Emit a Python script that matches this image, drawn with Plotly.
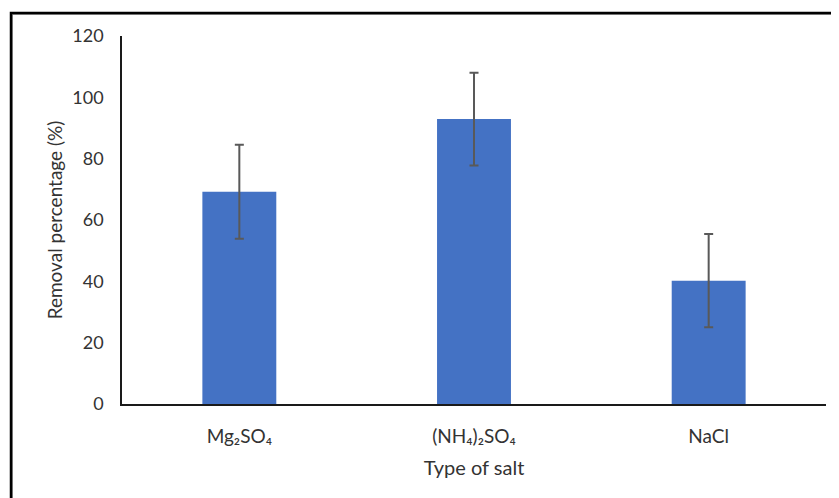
import plotly.graph_objects as go

categories = ["Mg₂SO₄", "(NH₄)₂SO₄", "NaCl"]
removal = [69.2, 92.9, 40.2]
errors = [15.3, 15.1, 15.2]
y_ticks = [0, 20, 40, 60, 80, 100, 120]

# page body has an 8px margin: work in figure-relative pixels
OFF = 8
W, H = 839 - OFF, 498 - OFF
ml, mr, mt, mb = 122 - OFF, 839 - 826, 36 - OFF, 498 - 404
pw, ph = W - ml - mr, H - mt - mb

def px_x(p):
    return (p - OFF - ml) / pw

def px_y(p):
    return (H - mb - (p - OFF)) / ph

font_family = "Lato, 'Open Sans', sans-serif"

fig = go.Figure(
    go.Bar(
        x=categories,
        y=removal,
        width=0.315,
        marker=dict(color="#4472C4", line=dict(width=0)),
        error_y=dict(type="data", array=errors, visible=True,
                     color="#595959", thickness=2, width=4.5),
    )
)

fig.update_layout(
    width=W, height=H,
    margin=dict(l=ml, r=mr, t=mt, b=mb, autoexpand=False),
    paper_bgcolor="white", plot_bgcolor="white",
    font=dict(family=font_family, size=18, color="#333333"),
    showlegend=False,
    xaxis=dict(
        title=dict(text="Type of salt", standoff=15, font=dict(size=20)),
        showline=True, linecolor="#1a1a1a", linewidth=1.5,
        showgrid=False, ticks="", ticklabelstandoff=14,
        tickfont=dict(size=19), automargin=False,
    ),
    yaxis=dict(
        title=dict(text="Removal percentage (%)", standoff=5, font=dict(size=19)),
        range=[0, 120], tickvals=y_ticks, showline=True,
        linecolor="#1a1a1a", linewidth=1.5, showgrid=False, zeroline=False,
        ticks="", ticklabelstandoff=13, automargin=False,
    ),
    shapes=[
        dict(type="rect", xref="paper", yref="paper",
             x0=px_x(12), y0=px_y(540), x1=px_x(880), y1=px_y(14),
             line=dict(color="#9a9a9a", width=2)),
        dict(type="rect", xref="paper", yref="paper",
             x0=px_x(11), y0=px_y(540), x1=px_x(880), y1=px_y(13),
             line=dict(color="black", width=2.5)),
    ],
)

fig.write_html("out.html")
